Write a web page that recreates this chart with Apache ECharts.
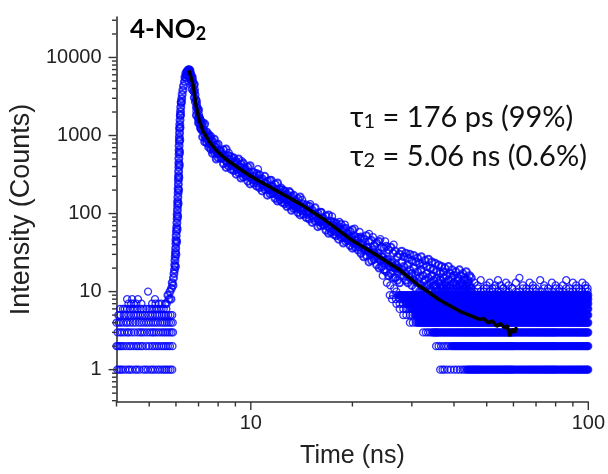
<!DOCTYPE html>
<html><head><meta charset="utf-8">
<script src="https://cdn.jsdelivr.net/npm/echarts@6/dist/echarts.min.js"></script>
<style>html,body{margin:0;padding:0;background:#fff}#c{width:608px;height:474px}</style>
</head><body><div id="c"></div>
<script>
// ================= DATA =================
const X_MIN = 4, X_MAX = 100, Y_MIN = 0.385, Y_MAX = 33000;
const xMajorTicks = [10, 100];
const xMinorTicks = [4,5,6,7,8,9,20,30,40,50,60,70,80,90];
const yMajorTicks = [1,10,100,1000,10000];
const yMinorTicks = [0.4,0.5,0.6,0.7,0.8,0.9,2,3,4,5,6,7,8,9,20,30,40,50,60,70,80,90,200,300,400,500,600,700,800,900,2000,3000,4000,5000,6000,7000,8000,9000,20000,30000];

// pre-pulse background (counts are integers)
const baselineLevels = [1,2,3,4,5,6,7,8,10];
const baselineTimes = [
  [4.02,4.07,4.12,4.17,4.25,4.33,4.38,4.45,4.55,4.6,4.68,4.8,4.87,4.95,5.05,5.12,5.2,5.3,5.38,5.47,5.55,5.62,5.7,5.78,5.85],
  [4.0,4.04,4.09,4.14,4.2,4.28,4.36,4.42,4.5,4.58,4.64,4.72,4.78,4.9,5.0,5.1,5.18,5.27,5.35,5.44,5.52,5.6,5.68,5.76,5.86],
  [4.03,4.1,4.15,4.22,4.3,4.35,4.43,4.52,4.62,4.7,4.76,4.84,4.93,5.02,5.1,5.16,5.24,5.33,5.42,5.5,5.58,5.66,5.74,5.82,5.88],
  [4.0,4.06,4.12,4.19,4.27,4.32,4.4,4.48,4.56,4.66,4.74,4.82,4.9,4.98,5.06,5.14,5.22,5.3,5.4,5.48,5.56,5.64,5.72,5.8,5.87],
  [4.05,4.11,4.2,4.26,4.34,4.41,4.5,4.57,4.63,4.7,4.78,4.86,4.96,5.04,5.12,5.21,5.28,5.36,5.45,5.53,5.6,5.69,5.78,5.85],
  [4.1,4.18,4.23,4.3,4.39,4.47,4.54,4.62,4.72,4.8,4.9,5.0,5.08,5.17,5.26,5.34,5.44,5.52,5.62],
  [4.34,4.42,4.5,4.58,4.74,5.1,5.22,5.33,5.44,5.58],
  [4.3,4.45,4.63,5.2],
  [4.96]
];

// rising edge of the pulse
const riseTime = [5.62,5.68,5.72,5.76,5.8,5.82,5.85,5.88,5.9,5.92,5.94,5.95,5.96,5.97,5.98,5.99,6.0,6.0,6.01,6.02,6.03,6.04,6.05,6.05,6.06,6.07,6.07,6.08,6.09,6.09,6.1,6.1,6.11,6.11,6.12,6.12,6.12,6.13,6.13,6.13,6.14,6.14,6.15,6.15,6.16,6.17,6.18,6.19,6.2,6.22,6.24,6.26,6.29,6.32,6.36,6.41,6.46,6.51,6.55,
  5.98,6.0,6.03,6.05,6.07,6.09,6.11,6.12,6.14,6.15,6.16,6.17,6.19,6.22,
  6.42,6.47,6.52,6.57,6.5,6.45,6.38];
const riseCounts = [7,9,8,10,8,11,13,12,15,17,19,22,25,28,32,36,41,46,52,59,67,76,86,98,111,126,143,162,184,209,237,269,305,346,393,446,506,574,651,739,838,951,1079,1224,1389,1576,1788,2029,2302,2612,2963,3362,3814,4328,4910,5500,6100,6600,6850,
  21,30,44,63,92,135,200,290,420,610,880,1270,1850,2700,
  6300,6600,6900,6950,6400,5900,5600];

// decay: three scattered readings per time
const decayTime = [6.6,6.7,6.8,6.9,7.0,7.1,7.2,7.3,7.4,7.5,7.6,7.7,7.8,7.9,8.0,
  8.15,8.3,8.45,8.6,8.75,8.9,9.05,9.2,9.35,9.5,9.65,9.8,9.95,
  10.2,10.4,10.6,10.8,11.0,11.2,11.4,11.6,11.8,12.0,12.2,12.4,12.6,12.8,13.0,13.2,13.4,13.6,13.8,14.0,
  14.3,14.6,14.9,15.2,15.5,15.8,16.1,16.4,16.7,17.0,17.3,17.6,17.9,18.2,18.5,18.8,19.1,19.4,19.7,20.0,
  20.4,20.8,21.2,21.6,22.0,22.4,22.8,23.2,23.6,24.0,24.4,24.8,25.2,25.6,26.0,26.4,26.8,27.2,27.6];
const decayHi = [6800,5650,4520,2750,2140,1550,1450,1410,1110,1030,970,850,895,760,775,
  635,655,670,550,535,515,465,500,430,440,375,395,410,
  335,325,315,280,300,260,265,225,238,247,205,202,195,177,191,166,171,146,155,163,
  133,129,124,111,119,102,104,88,93,96,79,78,75,68,73,64,65,56,59,62,
  51,49,50,47,52,44,45,39,42,44,37,36,38,34,37,31,33,28,30];
const decayMid = [6300,4760,3650,2310,1620,1430,1170,1000,990,845,810,720,720,640,585,
  585,530,475,490,435,430,390,400,360,330,345,320,295,
  295,265,262,237,244,219,200,207,192,176,182,165,163,149,154,140,129,134,125,116,
  119,105,104,94,96,86,78,81,75,68,71,63,63,57,59,53,49,51,48,44,
  45,40,40,36,37,33,30,31,29,27,28,25,25,23,23,21,20,20,19];
const decayLo = [5600,3930,3060,1820,1450,1250,960,830,815,715,670,590,605,500,520,
  510,435,390,405,370,355,320,335,285,295,300,260,240,
  245,225,215,195,205,172,179,181,157,145,150,139,134,123,129,110,116,117,103,96,
  98,89,85,77,80,68,70,71,61,56,58,54,52,47,50,42,44,45,39,36,
  37,34,31,28,29,24,25,26,22,20,21,19,18,16,17,15,15,14,13];
// decay: readings close to the curve, between the times above
const decayCoreTime = [7.05,7.15,7.25,7.35,7.45,7.55,7.65,7.75,7.85,7.95,
  8.07,8.22,8.37,8.52,8.67,8.82,8.97,9.12,9.27,9.42,9.57,9.72,9.87,
  10.1,10.3,10.5,10.7,10.9,11.1,11.3,11.5,11.7,11.9,12.1,12.3,12.5,12.7,12.9,13.1,13.3,13.5,13.7,13.9,
  14.15,14.45,14.75,15.05,15.35,15.65,15.95,16.25,16.55,16.85,17.15,17.45,17.75,18.05,18.35,18.65,18.95,19.25,19.55,19.85,
  20.2,20.6,21.0,21.4,21.8,22.2,22.6,23.0,23.4,23.8,24.2,24.6,25.0,25.4,25.8,26.2,26.6,27.0,27.4];
const decayCoreCounts = [1660,1183,1193,925,975,770,829,664,719,585,
  640,511,553,448,495,405,446,365,404,332,368,303,337,
  272,300,245,270,221,244,201,222,182,202,166,185,153,170,140,156,128,144,119,133,
  109,120,97,107,87,96,79,87,71,79,65,72,59,65,54,60,49,55,45,50,
  41,46,37,41,34,37,31,34,28,31,25,28,23,26,21,24,20,22,18];
const decayExtraTime = [6.62,6.65,6.68,6.72,6.75,6.78,6.82,6.85,6.88,6.92,6.95,6.98,7.02,7.05,7.08,7.12,7.15,6.64,6.7,6.76,6.83,6.9,6.97,7.04,7.1,
  11.5,13.1,15.0,17.4,19.0,21.0,23.0,25.0,26.5,12.3,14.2,16.2,18.3,20.3,22.4,24.2,8.6,9.4,10.5,
  24.6,25.3,25.9,26.6,27.0];
const decayExtraCounts = [6500,6100,5700,5300,4900,4500,3900,3300,2900,2500,2250,2050,1850,1700,1600,1500,1420,5200,4400,3700,2700,2050,1700,1400,1250,
  270,185,132,92,72,58,50,44,40,215,150,104,78,64,55,47,600,470,370,
  16,13,12,11,10];

// tail: upper scatter 28-45 ns
const tailUpperTime = [28.0,28.4,28.8,29.2,29.6,30.0,30.4,30.8,31.2,31.6,32.0,32.4,32.8,33.2,33.6,34.0,34.4,34.8,35.2,35.6,36.0,36.4,36.8,37.2,37.6,38.0,38.5,39.0,39.5,40.0,40.5,41.0,41.5,42.0,42.5,43.0,43.5,44.0,44.5,45.0];
const tailUpperA = [33,28,31,27,30,25,29,24,27,23,28,22,25,21,26,20,24,19,23,18,22,17,21,18,20,16,21,17,19,16,18,15,19,16,17,15,18,14,16,15];
const tailUpperB = [24,21,17,22,19,17,20,16,18,15,19,16,14,17,15,13,16,14,12,15,13,14,12,15,13,12,14,12,15,13,12,14,12,13,12,14,12,13,12,11];
const tailUpperC = [19,16,14,13,15,12,14,11,13,10,12,11,10,12,10,11,10,12,10,11,10,11,10,11,10,11,10,11,10,11,10,11,10,11,10,11,10,11,10,10];
// tail: sparse readings above the saturated band, 45-100 ns
const tailSparseTime = [46,47,48,49,50,51,52,53,54,55,56,57,58,59.5,61,62.5,64,65.5,67,68.5,70,72,74,76,78,80,82,84,86,88,90,92,94,96,98,99.5];
const tailSparseD = [13,12,14,11,12,13,11,12,14,12,11,13,12,11,13,15,12,11,13,12,11,14,12,11,13,12,11,12,14,11,13,12,11,13,12,11];
const tailSparseE = [10,11,10,10,11,10,10,11,10,10,11,10,10,11,10,10,11,10,10,11,10,10,11,10,10,11,10,10,11,10,10,11,10,10,11,10];
// tail: time channels of the saturated low-count levels
const tailGrid = [27.0,27.3,27.6,27.9,28.2,28.5,28.8,29.1,29.4,29.7,30.0,30.3,30.6,30.9,31.2,31.5,31.8,32.1,32.4,32.7,33.0,33.3,33.6,33.9,34.2,34.5,34.8,35.1,35.4,35.7,
  36.0,36.4,36.8,37.2,37.6,38.0,38.4,38.8,39.2,39.6,40.0,40.4,40.8,41.2,41.6,42.0,42.4,42.8,43.2,43.6,44.0,44.4,44.8,45.2,45.6,46.0,46.4,46.8,47.2,47.6,
  48.0,48.5,49.0,49.5,50.0,50.5,51.0,51.5,52.0,52.5,53.0,53.5,54.0,54.5,55.0,55.5,56.0,56.5,57.0,57.5,58.0,58.5,59.0,59.5,
  60.0,60.7,61.4,62.1,62.8,63.5,64.2,64.9,65.6,66.3,67.0,67.7,68.4,69.1,69.8,70.5,71.2,71.9,72.6,73.3,74.0,74.7,75.4,76.1,76.8,77.5,78.2,78.9,79.6,
  80.3,81.2,82.1,83.0,83.9,84.8,85.7,86.6,87.5,88.4,89.3,90.2,91.1,92.0,92.9,93.8,94.7,95.6,96.5,97.4,98.3,99.2,99.9];
const tailLevels = [1,2,3,4,5,6,7,8,9];
const tailLevelStart = [43.6,39.2,34.5,31.2,30.6,29.7,28.8,28.2,27.3];
const tailLevelLead = [
  [36.4,37.0,37.5,38.3,39.1,40.0,40.8,41.6,42.4,43.0],
  [35.4,36.0,36.6,37.3,37.9,38.5],
  [32.4,33.0,33.5,34.0],
  [29.6,30.2,30.8],
  [28.3,28.9,29.6,30.1],
  [27.6,28.3,28.9,29.3],
  [27.0,27.6,28.2],
  [26.2,26.9,27.6],
  [25.8,26.4]
];

// fitted decay curve
const fitTime = [6.56,6.75,6.88,7.03,7.22,7.52,7.89,8.44,9.22,10,11.85,14.04,16.64,19.72,23.37,27.7,31.72,36.35,41.64,47.7,49,50.5,52,53.5,55,56.5,57.5,58.5,59.5,60.5,61.3];
const fitCounts = [6870,4420,2450,1570,1135,845,648,497,381,301,199,132,82,46.9,30.1,18.75,11.7,7.74,5.59,4.42,4.5,4.0,4.2,3.6,3.9,3.4,3.7,2.7,3.3,3.0,3.5];

// ================= BUILD =================
const thinPts = [];   // isolated / sparse readings
const bandPts = [];   // pulse and decay band
const densePts = [];  // saturated low-count levels in the tail
baselineLevels.forEach((L, i) => baselineTimes[i].forEach(t => thinPts.push([t, L])));
riseTime.forEach((t, i) => bandPts.push([t, riseCounts[i]]));
decayTime.forEach((t, i) => { bandPts.push([t, decayHi[i]]); bandPts.push([t, decayMid[i]]); bandPts.push([t, decayLo[i]]); });
decayCoreTime.forEach((t, i) => bandPts.push([t, decayCoreCounts[i]]));
decayExtraTime.forEach((t, i) => thinPts.push([t, decayExtraCounts[i]]));
tailUpperTime.forEach((t, i) => { bandPts.push([t, tailUpperA[i]]); bandPts.push([t, tailUpperB[i]]); bandPts.push([t, tailUpperC[i]]); });
tailSparseTime.forEach((t, i) => { thinPts.push([t, tailSparseD[i]]); thinPts.push([t, tailSparseE[i]]); });
tailLevels.forEach((L, i) => {
  tailLevelLead[i].forEach(t => thinPts.push([t, L]));
  tailGrid.forEach(t => { if (t >= tailLevelStart[i]) densePts.push([t, L]); });
});
const fitData = fitTime.map((t, i) => [t, fitCounts[i]]);

const AX = '#333';
const LBL = '#222';
const BLUE = '#0000ff';
const FONT = '"Liberation Sans", Arial, sans-serif';
function powLabel(v) {
  const l = Math.log10(v);
  return Math.abs(l - Math.round(l)) < 1e-6 ? String(Math.round(v * 1e6) / 1e6) : '';
}
function tickSeries(data, isX) {
  return {
    type: 'custom', silent: true, z: 6, clip: false, animation: false,
    renderItem: function (params, api) {
      const len = api.value(2) === 1 ? 8 : 4.5;
      const p = api.coord([api.value(0), api.value(1)]);
      const shape = isX ? { x1: p[0], y1: p[1], x2: p[0], y2: p[1] + len }
                        : { x1: p[0], y1: p[1], x2: p[0] - len, y2: p[1] };
      return { type: 'line', shape: shape, style: { stroke: AX, lineWidth: 1.4 } };
    },
    data: data
  };
}
function ringSeries(data, size, bw) {
  return {
    type: 'scatter', data: data, symbol: 'circle', symbolSize: size,
    large: false, progressive: 0, silent: true, z: 2,
    itemStyle: { color: 'rgba(0,0,255,0)', borderColor: BLUE, borderWidth: bw }
  };
}
const xTickData = xMajorTicks.map(v => [v, Y_MIN, 1]).concat(xMinorTicks.map(v => [v, Y_MIN, 0]));
const yTickData = yMajorTicks.map(v => [X_MIN, v, 1]).concat(yMinorTicks.map(v => [X_MIN, v, 0]));

const chart = echarts.init(document.getElementById('c'), null, { renderer: 'canvas' });
chart.setOption({
  animation: false,
  backgroundColor: '#fff',
  grid: { left: 115, right: 19, top: 17, bottom: 72, containLabel: false },
  xAxis: {
    type: 'log', logBase: 10, min: X_MIN, max: X_MAX,
    name: 'Time (ns)', nameLocation: 'middle', nameGap: 42,
    nameTextStyle: { fontSize: 25, color: LBL, fontFamily: FONT },
    axisLine: { show: true, onZero: false, lineStyle: { color: AX, width: 1.6 } },
    axisTick: { show: false },
    splitLine: { show: false },
    axisLabel: { fontSize: 20, color: LBL, fontFamily: FONT, margin: 11, formatter: powLabel }
  },
  yAxis: {
    type: 'log', logBase: 10, min: Y_MIN, max: Y_MAX,
    name: 'Intensity (Counts)', nameLocation: 'middle', nameGap: 78,
    nameTextStyle: { fontSize: 27, color: LBL, fontFamily: FONT },
    axisLine: { show: true, onZero: false, lineStyle: { color: AX, width: 1.6 } },
    axisTick: { show: false },
    splitLine: { show: false },
    axisLabel: { fontSize: 20, color: LBL, fontFamily: FONT, margin: 15, formatter: powLabel }
  },
  series: [
    ringSeries(thinPts, 7, 1.3),
    ringSeries(bandPts, 7, 2.0),
    ringSeries(densePts, 5.4, 3),
    {
      type: 'line', data: fitData, showSymbol: false, symbol: 'none', silent: true, z: 4,
      lineStyle: { color: '#000', width: 3.5 }
    },
    tickSeries(xTickData, true),
    tickSeries(yTickData, false)
  ],
  graphic: [
    {
      type: 'text', left: 130, top: 17, z: 10,
      style: {
        text: '{a|4-NO}{b|2}',
        rich: {
          a: { fontFamily: 'Lato, "Noto Sans", sans-serif', fontWeight: 'bold', fontSize: 26, lineHeight: 30, verticalAlign: 'bottom', fill: '#000' },
          b: { fontFamily: 'Lato, "Noto Sans", sans-serif', fontWeight: 'bold', fontSize: 18, lineHeight: 10, verticalAlign: 'bottom', fill: '#000' }
        }
      }
    },
    {
      type: 'text', left: 350, top: 103, z: 10,
      style: {
        text: '{m|τ}{s|1}{m| = 176 ps (99%)}\n{m|τ}{s|2}{m| = 5.06 ns (0.6%)}',
        rich: {
          m: { fontFamily: 'Lato, "Noto Sans", sans-serif', fontSize: 29, lineHeight: 39, verticalAlign: 'bottom', fill: '#111' },
          s: { fontFamily: 'Lato, "Noto Sans", sans-serif', fontSize: 20, lineHeight: 16, verticalAlign: 'bottom', fill: '#111' }
        }
      }
    }
  ]
});
</script>
</body></html>
